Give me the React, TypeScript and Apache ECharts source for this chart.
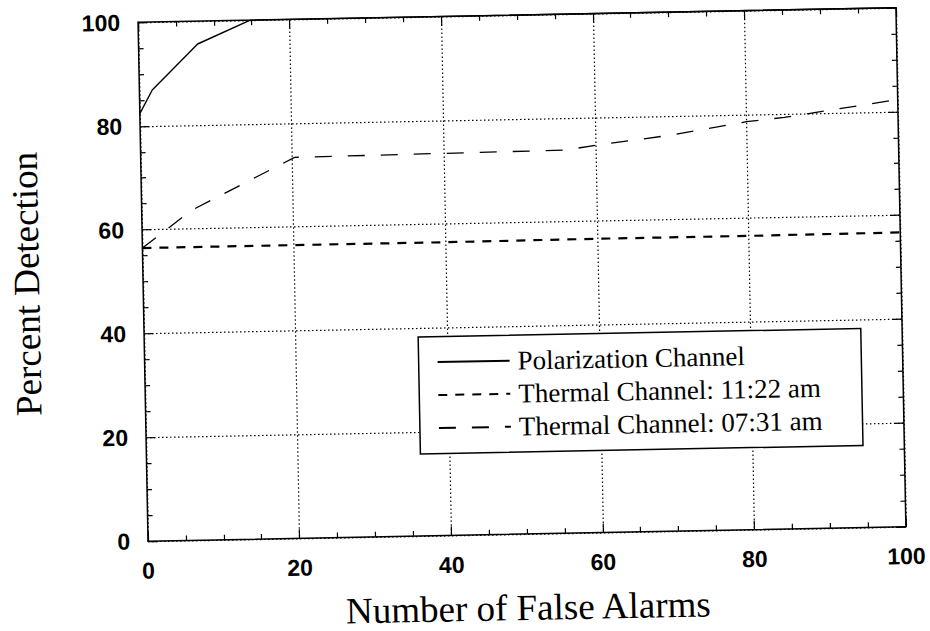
import { useEffect, useRef } from "react";
import * as echarts from "echarts";

// Tick values
const xTicks = [0, 20, 40, 60, 80, 100];
const yTicks = [0, 20, 40, 60, 80, 100];

// Series names
const seriesNames = [
  "Polarization Channel",
  "Thermal Channel: 11:22 am",
  "Thermal Channel: 07:31 am",
];

// Polarization Channel (solid)
const polarizationX = [0, 1.7, 7.8, 14.8, 100];
const polarizationY = [82.4, 86.9, 95.6, 100, 100];

// Thermal Channel 11:22 am (short dashes)
const thermal1122X = [0, 20, 40, 60, 80, 100];
const thermal1122Y = [56.5, 56.5, 56.5, 56.6, 56.6, 56.7];

// Thermal Channel 07:31 am (long dashes)
const thermal0731X = [0, 6.6, 20.3, 56, 60, 70, 80, 85, 100];
const thermal0731Y = [56.5, 63.6, 73.4, 73.8, 74.6, 76.3, 78.6, 79.3, 82.3];

const zip = (xs: number[], ys: number[]) => xs.map((x, i) => [x, ys[i]]);

export default function App() {
  const ref = useRef<HTMLDivElement>(null);

  useEffect(() => {
    if (!ref.current) return;
    const chart = echarts.init(ref.current, undefined, { renderer: "svg" });
    const black = "#000";
    const serif = "'Liberation Serif', 'Times New Roman', serif";
    const labelStyle = {
      fontFamily: "Liberation Sans",
      fontSize: 23,
      fontWeight: "bold" as const,
      color: black,
    };
    const axisCommon = (withLabels: boolean, withGrid: boolean) => ({
      type: "value" as const,
      min: xTicks[0],
      max: xTicks[xTicks.length - 1],
      interval: xTicks[1] - xTicks[0],
      axisLine: { show: true, onZero: false, lineStyle: { color: black, width: 1.5 } },
      axisTick: { show: true, inside: true, length: 9, lineStyle: { color: black, width: 1.2 } },
      minorTick: { show: true, splitNumber: 4, length: 5, lineStyle: { color: black, width: 1.2 } },
      axisLabel: { show: withLabels, margin: 18, ...labelStyle },
      splitLine: {
        show: withGrid,
        lineStyle: { color: black, type: [1.5, 2.5] as number[], width: 1.2 },
      },
      minorSplitLine: { show: false },
    });

    chart.setOption({
      animation: false,
      backgroundColor: "transparent",
      color: [black, black, black],
      textStyle: { fontFamily: serif },
      grid: { left: 141, right: 29, top: 15, bottom: 95, containLabel: false },
      xAxis: [
        {
          ...axisCommon(true, true),
          position: "bottom",
          name: "Number of False Alarms",
          nameLocation: "middle",
          nameGap: 55,
          nameTextStyle: { fontFamily: serif, fontSize: 37, color: black },
        },
        { ...axisCommon(false, false), position: "top" },
      ],
      yAxis: [
        {
          ...axisCommon(true, true),
          min: yTicks[0],
          max: yTicks[yTicks.length - 1],
          interval: yTicks[1] - yTicks[0],
          position: "left",
          name: "Percent Detection",
          nameLocation: "middle",
          nameGap: 98,
          nameTextStyle: { fontFamily: serif, fontSize: 37, color: black },
        },
        {
          ...axisCommon(false, false),
          min: yTicks[0],
          max: yTicks[yTicks.length - 1],
          interval: yTicks[1] - yTicks[0],
          position: "right",
        },
      ],
      legend: {
        orient: "vertical",
        left: 417,
        top: 335,
        padding: [12, 40, 12, 18],
        itemGap: 6,
        itemWidth: 72,
        itemHeight: 27,
        backgroundColor: "#fff",
        borderColor: black,
        borderWidth: 1.5,
        borderRadius: 0,
        selectedMode: false,
        itemStyle: { opacity: 0 },
        textStyle: {
          fontFamily: serif,
          fontSize: 27,
          color: black,
          padding: [0, 0, 0, 3],
        },
        data: seriesNames,
      },
      series: [
        {
          name: seriesNames[0],
          type: "line",
          symbol: "none",
          xAxisIndex: 0,
          yAxisIndex: 0,
          clip: false,
          data: zip(polarizationX, polarizationY),
          itemStyle: { color: black },
          lineStyle: { color: black, width: 1.4, type: "solid" },
        },
        {
          name: seriesNames[1],
          type: "line",
          symbol: "none",
          xAxisIndex: 0,
          yAxisIndex: 0,
          data: zip(thermal1122X, thermal1122Y),
          itemStyle: { color: black },
          lineStyle: { color: black, width: 2.2, type: [9, 8] },
        },
        {
          name: seriesNames[2],
          type: "line",
          symbol: "none",
          xAxisIndex: 0,
          yAxisIndex: 0,
          data: zip(thermal0731X, thermal0731Y),
          itemStyle: { color: black },
          lineStyle: { color: black, width: 1.3, type: [17, 16] },
        },
      ],
    });
    return () => chart.dispose();
  }, []);

  return (
    <div
      ref={ref}
      style={{
        position: "absolute",
        left: 0,
        top: 0,
        width: 930,
        height: 631,
        transform: "rotate(-1.1deg)",
        transformOrigin: "521px 275.5px",
      }}
    />
  );
}
